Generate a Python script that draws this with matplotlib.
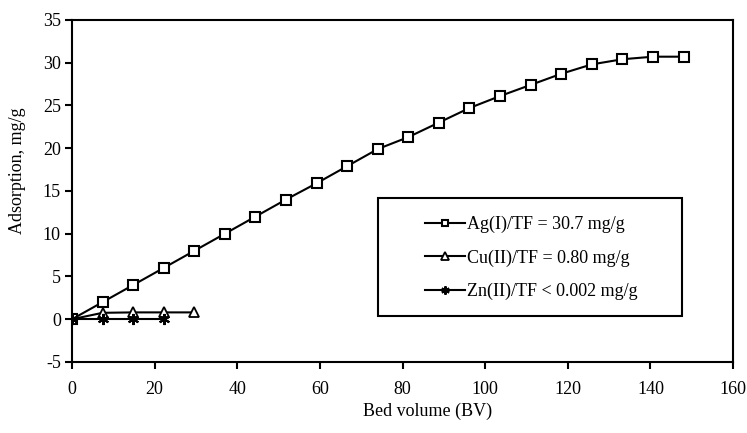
import matplotlib.pyplot as plt
from matplotlib.patches import Rectangle
import numpy as np

plt.rcParams['font.family'] = ['Liberation Serif', 'DejaVu Serif']
plt.rcParams['axes.unicode_minus'] = False

# bed volumes sampled every ~7.4 BV
bv_ag = [0, 7.4, 14.8, 22.2, 29.6, 37.0, 44.4, 51.8, 59.2, 66.6, 74.0,
         81.4, 88.8, 96.2, 103.6, 111.0, 118.4, 125.8, 133.2, 140.6, 148.0]
ads_ag = [0, 2.0, 4.0, 6.0, 8.0, 10.0, 12.0, 14.0, 15.9, 17.9, 19.9,
          21.3, 23.0, 24.7, 26.1, 27.4, 28.7, 29.8, 30.4, 30.7, 30.7]

bv_cu = [0, 7.4, 14.8, 22.2, 29.6]
ads_cu = [0, 0.75, 0.8, 0.8, 0.8]

bv_zn = [0, 7.4, 14.8, 22.2]
ads_zn = [0, 0, 0, 0]

labels = ["Ag(I)/TF = 30.7 mg/g", "Cu(II)/TF = 0.80 mg/g", "Zn(II)/TF < 0.002 mg/g"]

fig = plt.figure(figsize=(7.47, 4.33), dpi=100)
ax = fig.add_axes([0.0964, 0.164, 0.885, 0.790])

ax.plot(bv_ag, ads_ag, color='black', lw=1.5, marker='s', ms=6.5,
        mfc='white', mec='black', mew=1.5, label=labels[0])
ax.plot(bv_cu, ads_cu, color='black', lw=1.5, marker='^', ms=7,
        mfc='white', mec='black', mew=1.3, label=labels[1])
ax.plot(bv_zn, ads_zn, color='black', lw=1.5, marker=(6, 2, 0), ms=8,
        mec='black', mew=1.5, label=labels[2])

ax.set_xlim(0, 160)
ax.set_ylim(-5, 35)
ax.set_xticks(np.arange(0, 161, 20))
ax.set_yticks(np.arange(-5, 36, 5))
ax.tick_params(direction='out', length=5, width=1.5, labelsize=13, pad=9)
ax.tick_params(axis='y', pad=3)
for s in ax.spines.values():
    s.set_linewidth(1.5)

fig.text(0.572, 1 - 411 / 433, "Bed volume (BV)", fontsize=13,
         ha='center', va='center')
fig.text(0.023, 1 - 171 / 433, "Adsorption, mg/g", fontsize=13,
         ha='center', va='center', rotation=90)

# legend box drawn separately so the entries can sit inset from its left edge
box = Rectangle((0.463, 0.135), 0.46, 0.345, transform=ax.transAxes,
                facecolor='white', edgecolor='black', lw=1.5, zorder=4)
ax.add_patch(box)
leg = ax.legend(loc='upper left', bbox_to_anchor=(0.534, 0.427),
                fontsize=13, frameon=False, handlelength=2.2,
                handletextpad=0.15, labelspacing=0.9, borderpad=0,
                borderaxespad=0, markerscale=0.75)
leg.set_zorder(5)

fig.savefig("out.png", dpi=100)
